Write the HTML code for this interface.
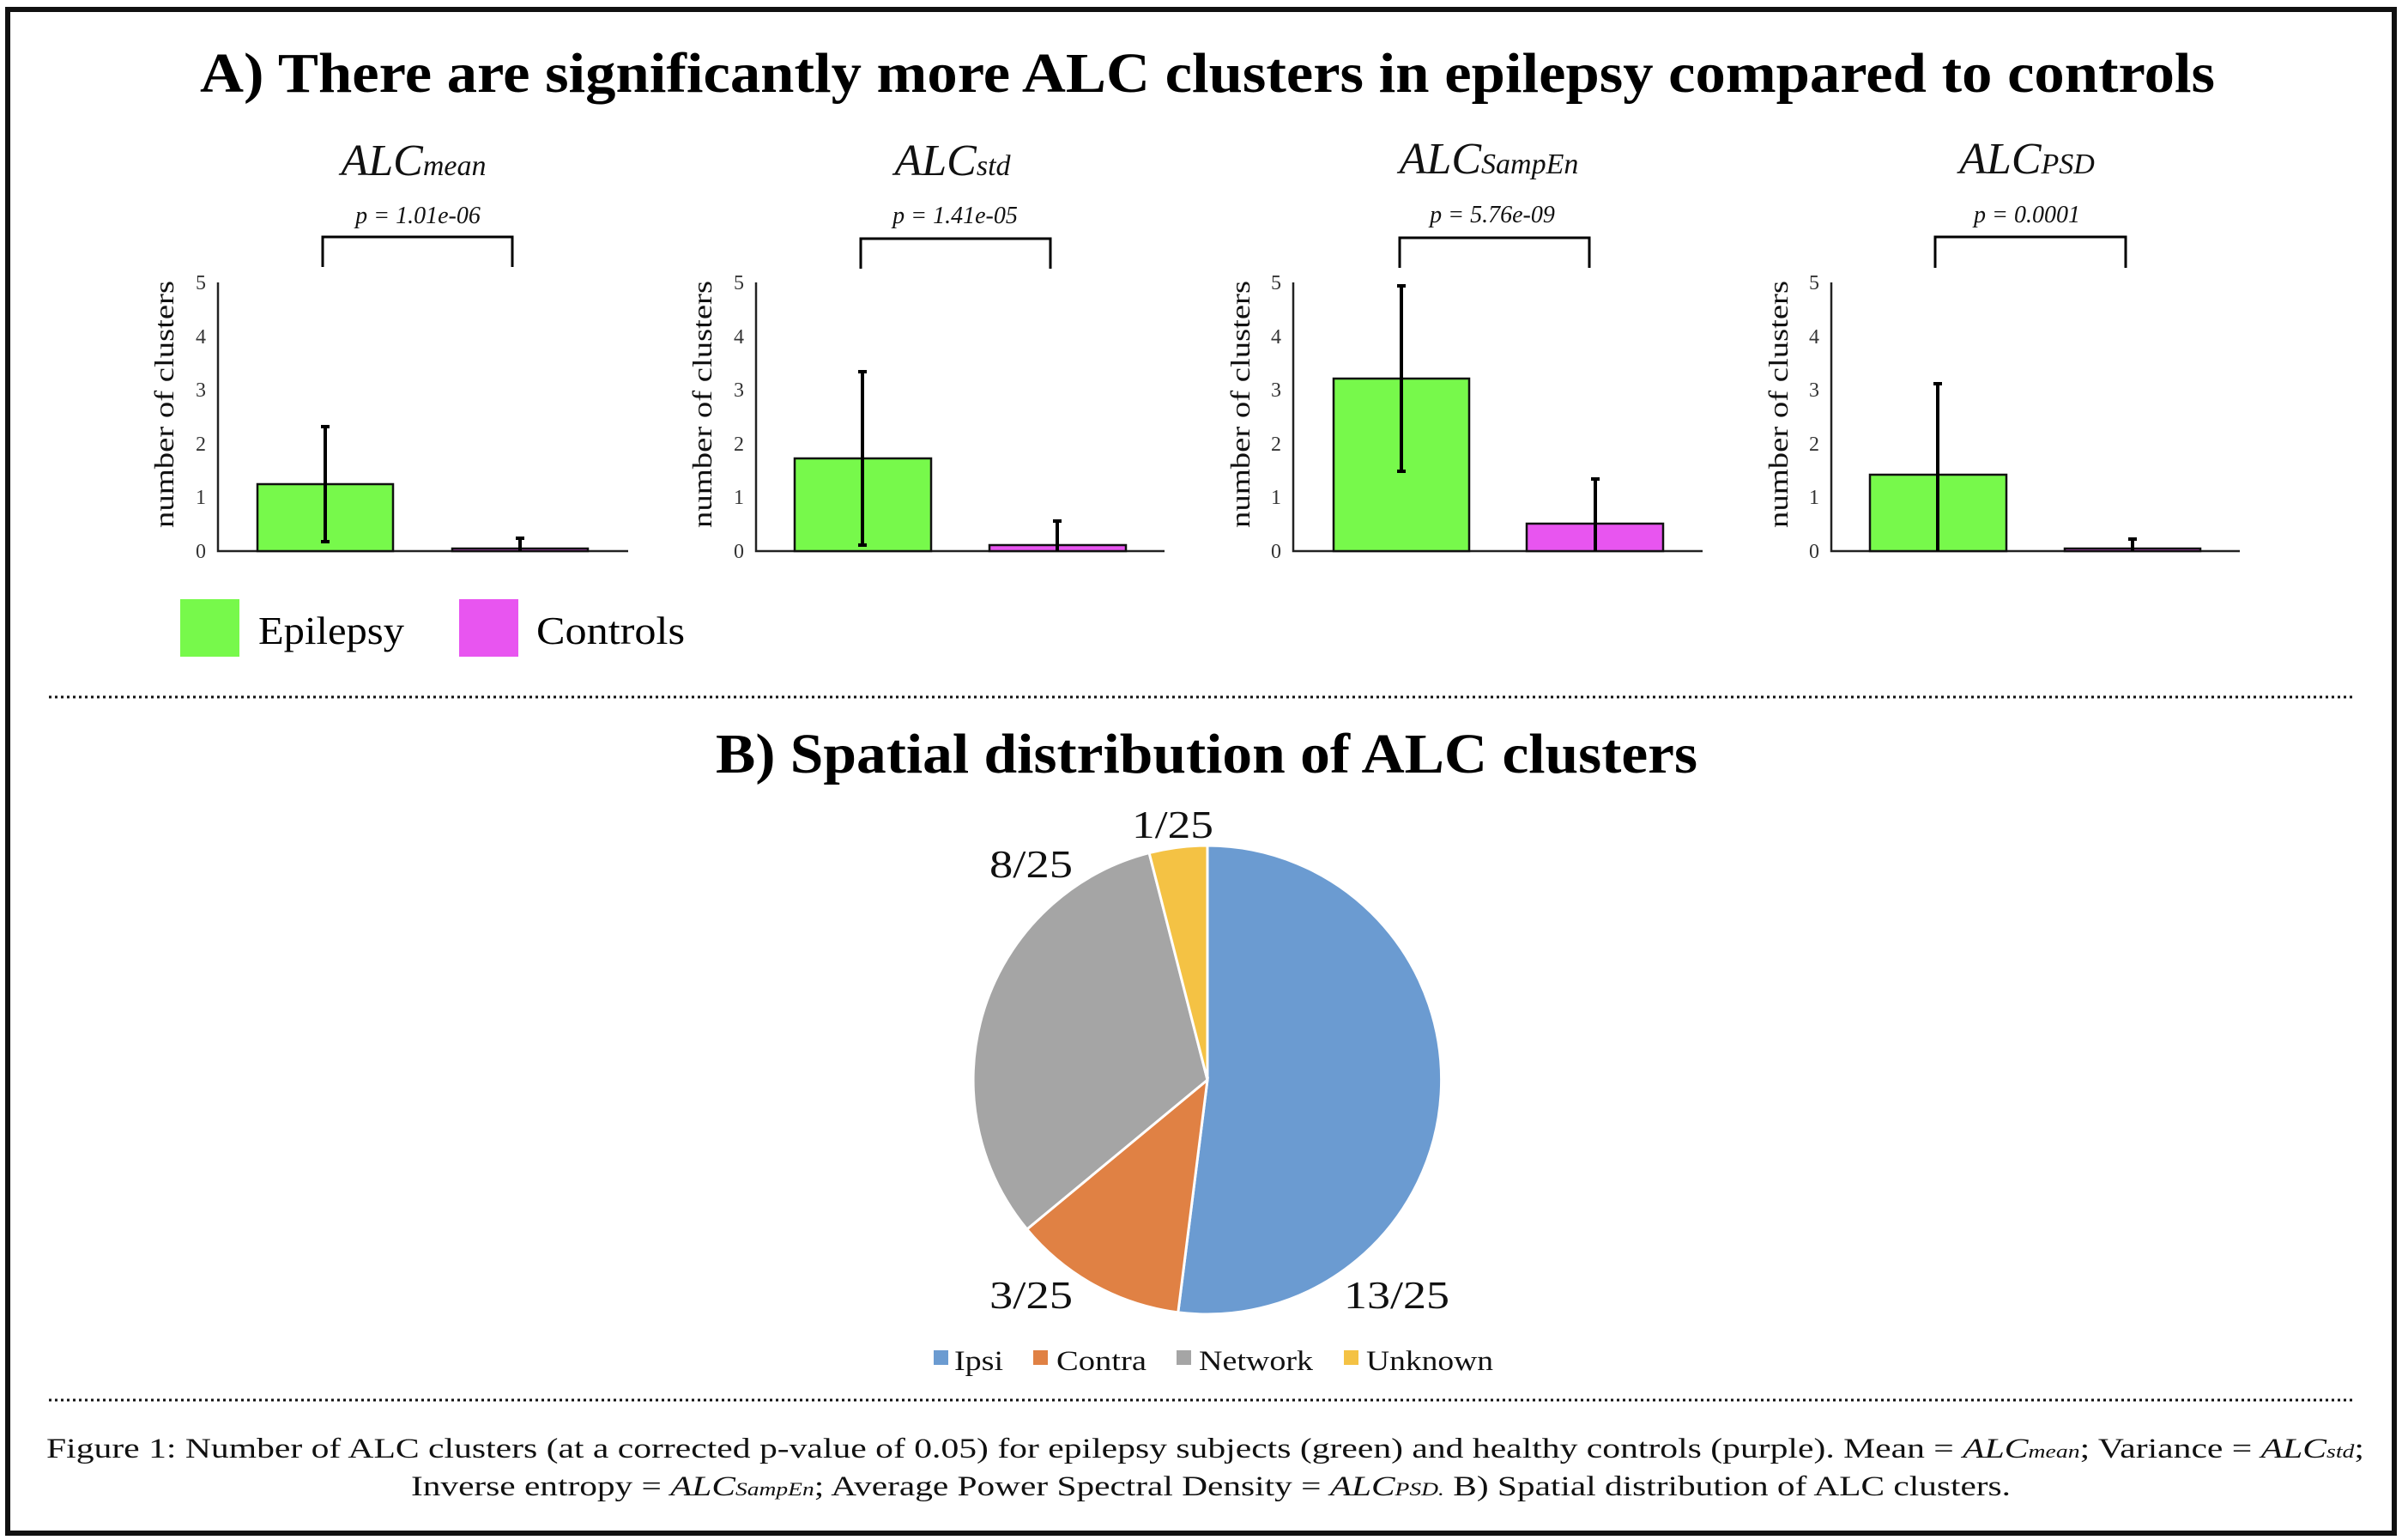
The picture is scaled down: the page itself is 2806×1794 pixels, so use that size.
<!DOCTYPE html>
<html><head><meta charset="utf-8"><style>
html,body{margin:0;padding:0;background:#fff;}
svg{display:block;}
text{font-family:"Liberation Serif",serif;}
</style></head><body>
<svg width="2806" height="1794" viewBox="0 0 2806 1794" xmlns="http://www.w3.org/2000/svg">
<rect x="9" y="11" width="2781" height="1775" fill="#fff" stroke="#111" stroke-width="6"/>

<text x="233" y="107" font-size="66" font-weight="bold" textLength="2348" lengthAdjust="spacingAndGlyphs">A) There are significantly more ALC clusters in epilepsy compared to controls</text>

<g font-style="italic" fill="#111">
<text x="482" y="204" font-size="52" text-anchor="middle">ALC<tspan font-size="34">mean</tspan></text>
<text x="1110" y="204" font-size="52" text-anchor="middle">ALC<tspan font-size="34">std</tspan></text>
<text x="1735" y="202" font-size="52" text-anchor="middle">ALC<tspan font-size="34">SampEn</tspan></text>
<text x="2362" y="202" font-size="52" text-anchor="middle">ALC<tspan font-size="34">PSD</tspan></text>
<text x="487" y="260" font-size="28" text-anchor="middle">p = 1.01e-06</text>
<text x="1113" y="260" font-size="28" text-anchor="middle">p = 1.41e-05</text>
<text x="1739" y="259" font-size="28" text-anchor="middle">p = 5.76e-09</text>
<text x="2362" y="259" font-size="28" text-anchor="middle">p = 0.0001</text>
</g>

<g fill="none" stroke="#000" stroke-width="3">
<path d="M376 311 V276 H597 V311"/>
<path d="M1003 313 V278 H1224 V313"/>
<path d="M1631 312 V277 H1852 V312"/>
<path d="M2255 312 V276 H2477 V312"/>
</g>

<g stroke="#222" stroke-width="2.5" fill="none">
<path d="M254 329 V642 H732"/>
<path d="M881 329 V642 H1357"/>
<path d="M1507 329 V642 H1984"/>
<path d="M2134 329 V642 H2610"/>
</g>
<g font-size="24" fill="#333" text-anchor="end">
<g transform="translate(240,0)"><text y="650">0</text><text y="587">1</text><text y="525">2</text><text y="462">3</text><text y="400">4</text><text y="337">5</text></g>
<g transform="translate(867,0)"><text y="650">0</text><text y="587">1</text><text y="525">2</text><text y="462">3</text><text y="400">4</text><text y="337">5</text></g>
<g transform="translate(1493,0)"><text y="650">0</text><text y="587">1</text><text y="525">2</text><text y="462">3</text><text y="400">4</text><text y="337">5</text></g>
<g transform="translate(2120,0)"><text y="650">0</text><text y="587">1</text><text y="525">2</text><text y="462">3</text><text y="400">4</text><text y="337">5</text></g>
</g>
<g font-size="32" fill="#111" text-anchor="middle">
<text transform="translate(202,471) rotate(-90)" textLength="288" lengthAdjust="spacingAndGlyphs">number of clusters</text>
<text transform="translate(829,471) rotate(-90)" textLength="288" lengthAdjust="spacingAndGlyphs">number of clusters</text>
<text transform="translate(1456,471) rotate(-90)" textLength="288" lengthAdjust="spacingAndGlyphs">number of clusters</text>
<text transform="translate(2083,471) rotate(-90)" textLength="288" lengthAdjust="spacingAndGlyphs">number of clusters</text>
</g>
<g stroke="#111" stroke-width="2.5">
<rect x="300" y="564" width="158" height="78" fill="#77f94b"/>
<rect x="527" y="639" width="158" height="3" fill="#e855f0"/>
<rect x="926" y="534" width="159" height="108" fill="#77f94b"/>
<rect x="1153" y="635" width="159" height="7" fill="#e855f0"/>
<rect x="1554" y="441" width="158" height="201" fill="#77f94b"/>
<rect x="1779" y="610" width="159" height="32" fill="#e855f0"/>
<rect x="2179" y="553" width="159" height="89" fill="#77f94b"/>
<rect x="2406" y="639" width="158" height="3" fill="#e855f0"/>
</g>
<g stroke="#000" stroke-width="4" fill="none">
<path d="M379 497 V631 M374 497 H384 M374 631 H384"/>
<path d="M606 627 V642 M601 627 H611"/>
<path d="M1005 433 V635 M1000 433 H1010 M1000 635 H1010"/>
<path d="M1232 607 V642 M1227 607 H1237"/>
<path d="M1633 333 V549 M1628 333 H1638 M1628 549 H1638"/>
<path d="M1859 558 V642 M1854 558 H1864"/>
<path d="M2258 447 V642 M2253 447 H2263"/>
<path d="M2485 628 V642 M2480 628 H2490"/>
</g>

<rect x="210" y="698" width="69" height="67" fill="#77f94b"/>
<text x="301" y="750" font-size="46" textLength="170" lengthAdjust="spacingAndGlyphs">Epilepsy</text>
<rect x="535" y="698" width="69" height="67" fill="#e855f0"/>
<text x="625" y="750" font-size="46" textLength="173" lengthAdjust="spacingAndGlyphs">Controls</text>

<line x1="57" y1="812" x2="2743" y2="812" stroke="#111" stroke-width="3" stroke-dasharray="3 4"/>

<text x="834" y="900" font-size="66" font-weight="bold" textLength="1144" lengthAdjust="spacingAndGlyphs">B) Spatial distribution of ALC clusters</text>

<g stroke="#fff" stroke-width="3">
<path d="M1407 1258 L1407 985 A273 273 0 1 1 1372.8 1528.9 Z" fill="#6b9bd1"/>
<path d="M1407 1258 L1372.8 1528.9 A273 273 0 0 1 1196.7 1432 Z" fill="#e08144"/>
<path d="M1407 1258 L1196.7 1432 A273 273 0 0 1 1339.1 993.6 Z" fill="#a5a5a5"/>
<path d="M1407 1258 L1339.1 993.6 A273 273 0 0 1 1407 985 Z" fill="#f4c244"/>
</g>
<g font-size="46" fill="#111">
<text x="1319" y="976" textLength="95" lengthAdjust="spacingAndGlyphs">1/25</text>
<text x="1153" y="1022" textLength="97" lengthAdjust="spacingAndGlyphs">8/25</text>
<text x="1153" y="1524" textLength="97" lengthAdjust="spacingAndGlyphs">3/25</text>
<text x="1566" y="1524" textLength="123" lengthAdjust="spacingAndGlyphs">13/25</text>
</g>
<g font-size="33" fill="#111">
<rect x="1088" y="1573" width="17" height="17" fill="#6b9bd1"/><text x="1112" y="1596" textLength="57" lengthAdjust="spacingAndGlyphs">Ipsi</text>
<rect x="1204" y="1573" width="17" height="17" fill="#e08144"/><text x="1231" y="1596" textLength="105" lengthAdjust="spacingAndGlyphs">Contra</text>
<rect x="1371" y="1573" width="17" height="17" fill="#a5a5a5"/><text x="1397" y="1596" textLength="133" lengthAdjust="spacingAndGlyphs">Network</text>
<rect x="1566" y="1573" width="17" height="17" fill="#f4c244"/><text x="1592" y="1596" textLength="148" lengthAdjust="spacingAndGlyphs">Unknown</text>
</g>

<line x1="57" y1="1631" x2="2743" y2="1631" stroke="#111" stroke-width="3" stroke-dasharray="3 4"/>

<g font-size="33" fill="#111">
<text x="54" y="1698" textLength="2701" lengthAdjust="spacingAndGlyphs">Figure 1: Number of ALC clusters (at a corrected p-value of 0.05) for epilepsy subjects (green) and healthy controls (purple). Mean = <tspan font-style="italic">ALC<tspan font-size="22">mean</tspan></tspan>; Variance = <tspan font-style="italic">ALC<tspan font-size="22">std</tspan></tspan>;</text>
<text x="479" y="1742" textLength="1864" lengthAdjust="spacingAndGlyphs">Inverse entropy = <tspan font-style="italic">ALC<tspan font-size="22">SampEn</tspan></tspan>; Average Power Spectral Density = <tspan font-style="italic">ALC<tspan font-size="22">PSD.</tspan></tspan> B) Spatial distribution of ALC clusters.</text>
</g>
</svg>
</body></html>
